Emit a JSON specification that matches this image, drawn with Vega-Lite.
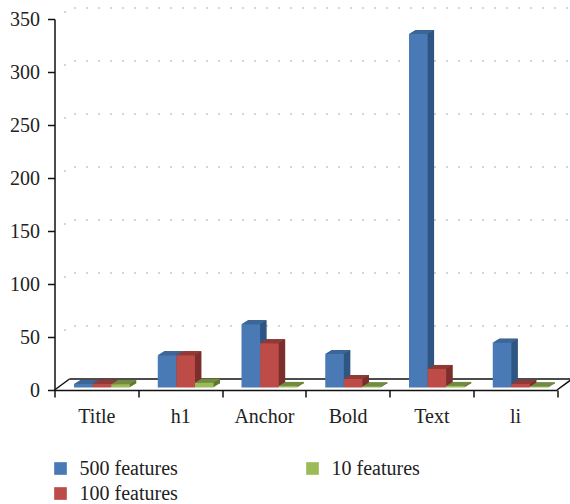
{"$schema":"https://vega.github.io/schema/vega-lite/v6.json","width":502.5,"height":371,"autosize":{"type":"none"},"padding":{"left":54.5,"top":19,"right":13,"bottom":114},"background":"white","config":{"view":{"stroke":null},"font":"Liberation Serif"},"layer":[{"data":{"values":[{"value":50},{"value":100},{"value":150},{"value":200},{"value":250},{"value":300},{"value":350}]},"layer":[{"mark":{"type":"point","shape":"M15,-11L517.5,-11","size":4,"filled":false,"color":"#555","strokeWidth":1,"strokeDash":[1,11],"strokeDashOffset":7,"opacity":1},"encoding":{"x":{"datum":"Title","type":"nominal","bandPosition":0,"scale":{"domain":["Title","h1","Anchor","Bold","Text","li"],"paddingInner":0,"paddingOuter":0},"axis":{"title":null,"labelAngle":0,"labelFontSize":20,"labelColor":"#222","labelFont":"Liberation Serif","labelPadding":9,"tickBand":"extent","tickSize":7,"tickColor":"#111","tickWidth":1.5,"domainColor":"#111","domainWidth":1.5,"grid":false}},"y":{"field":"value","type":"quantitative","scale":{"domain":[0,350],"nice":false},"axis":{"title":null,"values":[0,50,100,150,200,250,300,350],"labelFontSize":20,"labelColor":"#222","labelFont":"Liberation Serif","labelPadding":8,"tickSize":7,"tickColor":"#111","tickWidth":1.5,"domainColor":"#111","domainWidth":1.5,"grid":false}}}},{"mark":{"type":"point","shape":"M10,-7L11,-7","size":4,"filled":false,"color":"#555","strokeWidth":1,"opacity":1},"encoding":{"x":{"datum":"Title","type":"nominal","bandPosition":0},"y":{"field":"value","type":"quantitative"}}}]},{"data":{"values":[{"category":"Title","value":0}]},"mark":{"type":"point","shape":"M15,-11L517.5,-11","size":4,"filled":false,"color":"#111","strokeWidth":1.5,"opacity":1},"encoding":{"x":{"field":"category","type":"nominal","bandPosition":0},"y":{"field":"value","type":"quantitative"}}},{"data":{"values":[{"category":"Title","value":0}]},"mark":{"type":"point","shape":"M0,0L15,-11","size":4,"filled":false,"color":"#111","strokeWidth":1.5,"opacity":1},"encoding":{"x":{"field":"category","type":"nominal","bandPosition":0},"y":{"field":"value","type":"quantitative"}}},{"data":{"values":[{"category":"li","value":0}]},"mark":{"type":"point","shape":"M0,0L15,-11","size":4,"filled":false,"color":"#111","strokeWidth":1.5,"opacity":1},"encoding":{"x":{"field":"category","type":"nominal","bandPosition":1},"y":{"field":"value","type":"quantitative"}}},{"data":{"values":[{"category":"Title","series":"500 features","value":3.3},{"category":"Title","series":"100 features","value":3.5},{"category":"Title","series":"10 features","value":3},{"category":"h1","series":"500 features","value":30.4},{"category":"h1","series":"100 features","value":30.4},{"category":"h1","series":"10 features","value":4.5},{"category":"Anchor","series":"500 features","value":59.6},{"category":"Anchor","series":"100 features","value":41.7},{"category":"Anchor","series":"10 features","value":1.5},{"category":"Bold","series":"500 features","value":31.6},{"category":"Bold","series":"100 features","value":8},{"category":"Bold","series":"10 features","value":1},{"category":"Text","series":"500 features","value":333.5},{"category":"Text","series":"100 features","value":17.5},{"category":"Text","series":"10 features","value":1.5},{"category":"li","series":"500 features","value":42.3},{"category":"li","series":"100 features","value":3.3},{"category":"li","series":"10 features","value":1}]},"encoding":{"x":{"field":"category","type":"nominal","sort":null},"y":{"field":"value","type":"quantitative"}},"resolve":{"scale":{"color":"independent","xOffset":"independent"}},"layer":[{"mark":{"type":"bar","width":18.6,"yOffset":-3.1,"y2Offset":-3.1},"encoding":{"xOffset":{"field":"series","type":"nominal","sort":null,"scale":{"domain":["500 features","100 features","10 features"],"range":[20.5,76.3],"paddingInner":0,"paddingOuter":0}},"fill":{"field":"series","type":"nominal","legend":null,"scale":{"domain":["500 features","100 features","10 features"],"range":["#2f5682","#7b2e2c","#5f7733"]}}}},{"mark":{"type":"bar","width":18.6,"yOffset":-3.7,"y2Offset":-3.7},"encoding":{"xOffset":{"field":"series","type":"nominal","sort":null,"scale":{"domain":["500 features","100 features","10 features"],"range":[21.5,77.3],"paddingInner":0,"paddingOuter":0}},"fill":{"field":"series","type":"nominal","legend":null}}},{"mark":{"type":"bar","width":18.6,"yOffset":-4.35,"y2Offset":-4.35},"encoding":{"xOffset":{"field":"series","type":"nominal","sort":null,"scale":{"domain":["500 features","100 features","10 features"],"range":[22.5,78.3],"paddingInner":0,"paddingOuter":0}},"fill":{"field":"series","type":"nominal","legend":null}}},{"mark":{"type":"bar","width":18.6,"yOffset":-5,"y2Offset":-5},"encoding":{"xOffset":{"field":"series","type":"nominal","sort":null,"scale":{"domain":["500 features","100 features","10 features"],"range":[23.5,79.3],"paddingInner":0,"paddingOuter":0}},"fill":{"field":"series","type":"nominal","legend":null}}},{"mark":{"type":"bar","width":18.6,"yOffset":-5.6,"y2Offset":-5.6},"encoding":{"xOffset":{"field":"series","type":"nominal","sort":null,"scale":{"domain":["500 features","100 features","10 features"],"range":[24.5,80.3],"paddingInner":0,"paddingOuter":0}},"fill":{"field":"series","type":"nominal","legend":null}}},{"mark":{"type":"bar","width":18.6,"yOffset":-6.2,"y2Offset":-6.2},"encoding":{"xOffset":{"field":"series","type":"nominal","sort":null,"scale":{"domain":["500 features","100 features","10 features"],"range":[25.5,81.3],"paddingInner":0,"paddingOuter":0}},"fill":{"field":"series","type":"nominal","legend":null}}},{"mark":{"type":"bar","width":18.6,"yOffset":-6.5,"y2Offset":-6.5},"encoding":{"xOffset":{"field":"series","type":"nominal","sort":null,"scale":{"domain":["500 features","100 features","10 features"],"range":[26,81.8],"paddingInner":0,"paddingOuter":0}},"fill":{"field":"series","type":"nominal","legend":null}}},{"mark":{"type":"point","shape":"M-9.3,0L9.3,0L15.8,-4L-2.8,-4Z","size":4,"filled":true,"opacity":1,"yOffset":-2.5},"encoding":{"xOffset":{"field":"series","type":"nominal","sort":null,"scale":{"type":"point","domain":["500 features","100 features","10 features"],"range":[28.8,66],"padding":0}},"color":{"field":"series","type":"nominal","legend":null,"scale":{"domain":["500 features","100 features","10 features"],"range":["#3c6695","#8f3a37","#728b40"]}}}},{"mark":{"type":"bar","width":18.6,"yOffset":-2.5,"y2Offset":-2.5},"encoding":{"xOffset":{"field":"series","type":"nominal","sort":null,"scale":{"domain":["500 features","100 features","10 features"],"range":[19.5,75.3],"paddingInner":0,"paddingOuter":0}},"color":{"field":"series","type":"nominal","scale":{"domain":["500 features","100 features","10 features"],"range":["#4a7ab5","#bd4c48","#9bbb59"]},"legend":{"title":null,"orient":"none","legendX":-4,"legendY":439.5,"direction":"vertical","columns":2,"symbolType":"square","symbolSize":160,"symbolOpacity":1,"symbolStrokeWidth":0,"labelFontSize":20,"labelColor":"#222","labelFont":"Liberation Serif","labelOffset":9,"labelLimit":200,"columnPadding":124,"rowPadding":5}}}}]}]}
